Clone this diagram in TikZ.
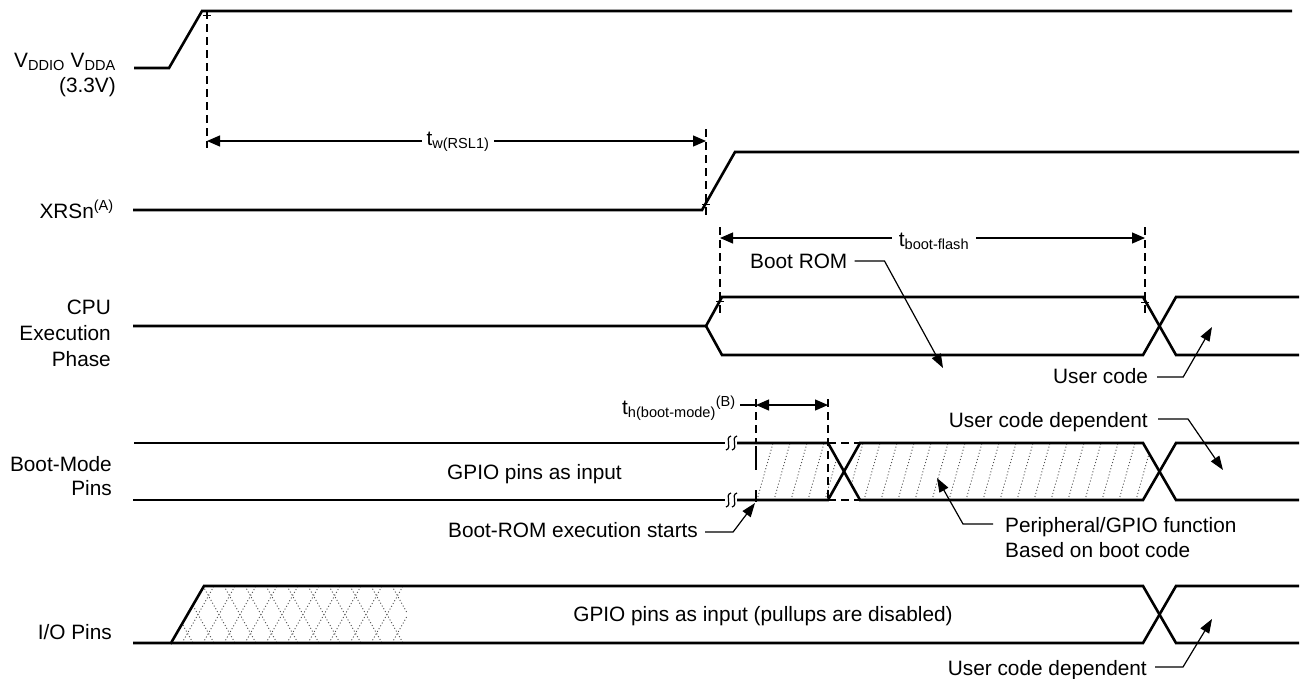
\documentclass[tikz,border=0pt]{standalone}
\usepackage{fontspec}
\setmainfont{Liberation Sans}
\usetikzlibrary{arrows.meta,calc}
\begin{document}
\begin{tikzpicture}[x=1pt,y=-1pt,
  sig/.style={line width=2.6pt, line join=miter},
  thinln/.style={line width=1.2pt},
  dimarr/.style={line width=1.2pt, {Triangle[length=13pt,width=11pt]}-{Triangle[length=13pt,width=11pt]}},
  ldr/.style={line width=1.2pt, -{Triangle[length=14pt,width=10pt]}},
  dsh/.style={line width=1.4pt, dash pattern=on 8pt off 5pt},
  hatch/.style={line width=0.9pt, black!70, dash pattern=on 1pt off 2.2pt},
  lbl/.style={font=\fontsize{20.8}{25}\selectfont, inner sep=0pt, anchor=base east},
  txt/.style={font=\fontsize{20.8}{25}\selectfont, inner sep=0pt},
  tickm/.style={line width=0.9pt}
]
\useasboundingbox (0,0) rectangle (1301,678);

% ---------- hatching ----------
\begin{scope}
  \clip (756,443) -- (828,443) -- (844,471.5) -- (828,500) -- (756,500) -- cycle;
  \foreach \x in {740,757,...,860} \draw[hatch] (\x,500) -- (\x+16,443);
\end{scope}
\begin{scope}
  \clip (844,471.5) -- (860,443) -- (1143,443) -- (1160,471.5) -- (1143,500) -- (860,500) -- cycle;
  \foreach \x in {830,847,...,1180} \draw[hatch] (\x,500) -- (\x+16,443);
\end{scope}
\begin{scope}
  \clip (171,643) -- (204,586) -- (407,586) -- (407,643) -- cycle;
  \foreach \x in {140,161,...,430} {
    \draw[hatch] (\x,643) -- (\x+32,586);
    \draw[hatch] (\x,586) -- (\x+32,643);
  }
\end{scope}

% ---------- signals ----------
% VDDIO / VDDA
\draw[sig] (134,68) -- (169,68) -- (202,11) -- (1292,11);
% XRSn
\draw[sig] (133,210) -- (702,210) -- (735,152) -- (1299,152);
% CPU execution phase
\draw[sig] (133,326) -- (706,326) -- (722,297) -- (1143,297) -- (1176,355) -- (1299,355);
\draw[sig] (706,326) -- (722,355) -- (1143,355) -- (1176,297) -- (1299,297);
% Boot-mode pins
\draw[sig] (134,443) -- (725,443);
\draw[sig] (133,500) -- (725,500);
\draw[sig] (737,443) -- (828,443) -- (860,500) -- (1143,500) -- (1176,443) -- (1299,443);
\draw[sig] (737,500) -- (828,500) -- (860,443) -- (1143,443) -- (1176,500) -- (1299,500);
% break marks
\foreach \bx in {726,732} {
  \draw[thinln] (\bx,450) .. controls (\bx+7,448) and (\bx-2,438) .. (\bx+5,436);
  \draw[thinln] (\bx,507) .. controls (\bx+7,505) and (\bx-2,495) .. (\bx+5,493);
}
% I/O pins
\draw[sig] (133,643) -- (171,643) -- (204,586) -- (1143,586) -- (1176,643) -- (1299,643);
\draw[sig] (171,643) -- (1143,643) -- (1176,586) -- (1299,586);

% ---------- dashed reference lines ----------
\draw[dsh] (207,11) -- (207,148);
\draw[dsh] (706,129) -- (706,216);
\draw[dsh] (720,227) -- (720,314);
\draw[dsh] (1145,227) -- (1145,314);
\draw[dsh] (756,399) -- (756,443);
\draw[line width=2.6pt] (756,446) -- (756,470) (756,490) -- (756,502);
\draw[dsh] (828,399) -- (828,500);
\draw[dsh] (828,443) -- (865,443);
\draw[dsh] (828,500) -- (862,500);

% small ticks
\draw[tickm] (203,15) -- (211,15);
\draw[tickm] (702,204) -- (710,204);
\draw[tickm] (716,301) -- (724,301);
\draw[tickm] (1141,302) -- (1149,302);

% ---------- left labels ----------
\node[lbl] (vdd)  at (116,67)  {V\textsubscript{DDIO} V\textsubscript{DDA}};
\node[lbl] (vddv) at (116,92)  {(3.3V)};
\node[lbl] (xrs)  at (114,218) {XRSn\textsuperscript{(A)}};
\node[lbl] (cpu1) at (111,314) {CPU};
\node[lbl] (cpu2) at (111,340) {Execution};
\node[lbl] (cpu3) at (111,366) {Phase};
\node[lbl] (bm1)  at (112,471) {Boot-Mode};
\node[lbl] (bm2)  at (112,495) {Pins};
\node[lbl] (io)   at (112,639) {I/O Pins};

% ---------- timing dimensions ----------
\coordinate (twL) at (207,141);
\coordinate (twR) at (706,141);
\draw[dimarr] (twL) -- (twR);
\node[txt, fill=white, inner xsep=5pt, anchor=base] (tw) at (458,145) {t\textsubscript{w(RSL1)}};

\coordinate (tbL) at (720,238);
\coordinate (tbR) at (1145,238);
\draw[dimarr] (tbL) -- (tbR);
\node[txt, fill=white, inner xsep=7pt, anchor=base] (tb) at (934,246) {t\textsubscript{boot-flash}};

\coordinate (thL) at (756,405);
\coordinate (thR) at (828,405);
\draw[dimarr] (thL) -- (thR);
\node[lbl] (th) at (736,414) {t\textsubscript{h(boot-mode)}\textsuperscript{(B)}};
\draw[thinln] ($(th.base east)+(4,-9)$) -- (thL);

% ---------- annotations ----------
\node[txt, anchor=base west] (bootrom) at (750,268) {Boot ROM};
\coordinate (bootromtip) at (943,368);
\draw[ldr] ($(bootrom.base east)+(7,-7)$) -- ++(30,0) -- (bootromtip);

\node[txt, anchor=base west] (ucode) at (1053,383) {User code};
\coordinate (ucodetip) at (1212,327);
\draw[ldr] ($(ucode.base east)+(9,-6)$) -- ++(26,0) -- (ucodetip);

\node[txt, anchor=base west] (gpioin) at (447,479) {GPIO pins as input};

\node[txt, anchor=base west] (brs) at (448,537) {Boot-ROM execution starts};
\coordinate (brstip) at (755,503);
\draw[ldr] ($(brs.base east)+(7,-5)$) -- ++(28,0) -- (brstip);

\node[txt, anchor=base east] (ucd1) at (1148,427) {User code dependent};
\coordinate (ucd1tip) at (1223,470);
\draw[ldr] ($(ucd1.base east)+(10,-8)$) -- ++(30,0) -- (ucd1tip);

\node[txt, anchor=base west] (per1) at (1005,532) {Peripheral/GPIO function};
\node[txt, anchor=base west] (per2) at (1005,557) {Based on boot code};
\coordinate (pertip) at (937,478);
\draw[ldr] ($(per1.base west)+(-12,-8)$) -- ++(-30,0) -- (pertip);

\node[txt, anchor=base] (gpiodis) at (763,621) {GPIO pins as input (pullups are disabled)};

\node[txt, anchor=base east] (ucd2) at (1147,675) {User code dependent};
\coordinate (ucd2tip) at (1212,619);
\draw[ldr] ($(ucd2.base east)+(8,-8)$) -- ++(28,0) -- (ucd2tip);
\end{tikzpicture}
\end{document}
